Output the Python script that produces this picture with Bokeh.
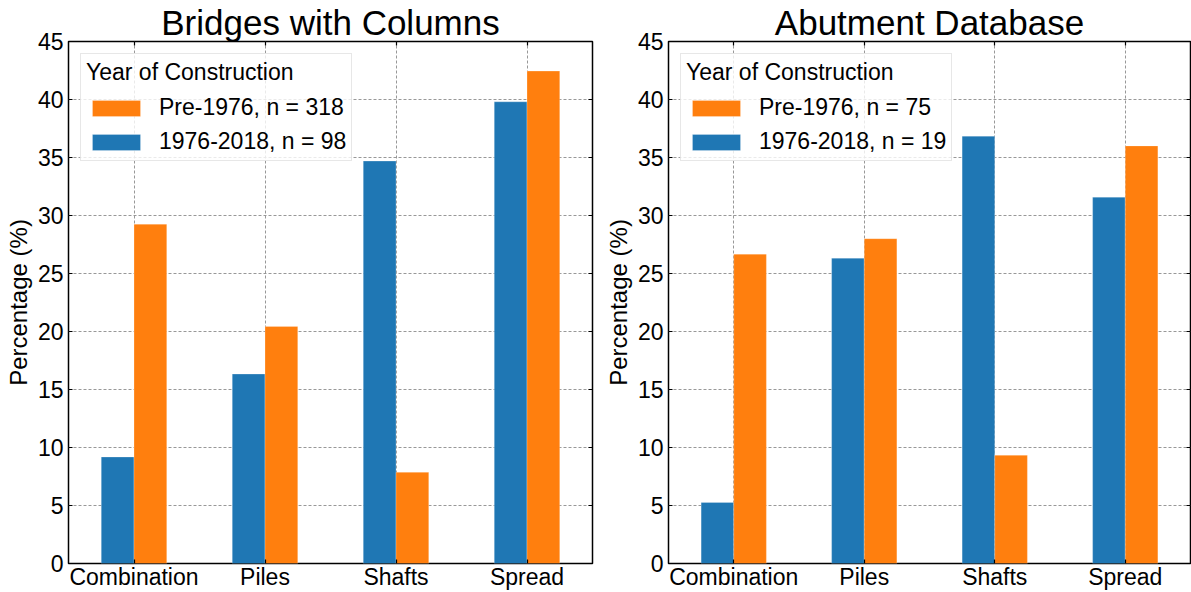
from bokeh.plotting import figure
from bokeh.layouts import row
from bokeh.models import (ColumnDataSource, FactorRange, Range1d, LinearAxis,
                          CategoricalAxis, Legend, LegendItem, FixedTicker)
from bokeh.transform import dodge
from bokeh.embed import file_html
from bokeh.resources import INLINE

# Foundation types and percentage shares per construction era
categories = ["Combination", "Piles", "Shafts", "Spread"]

columns_title = "Bridges with Columns"
columns_pre1976 = [29.25, 20.44, 7.86, 42.45]
columns_post1976 = [9.18, 16.33, 34.69, 39.80]
columns_labels = ["Pre-1976, n = 318", "1976-2018, n = 98"]

abutment_title = "Abutment Database"
abutment_pre1976 = [26.67, 28.00, 9.33, 36.00]
abutment_post1976 = [5.26, 26.32, 36.84, 31.58]
abutment_labels = ["Pre-1976, n = 75", "1976-2018, n = 19"]

y_ticks = [0, 5, 10, 15, 20, 25, 30, 35, 40, 45]

FONT = "Liberation Sans"
BLUE = "#1f77b4"
ORANGE = "#ff7f0e"


def make_panel(title, pre, post, labels, width, border_left, border_right):
    src = ColumnDataSource(dict(cat=categories, pre=pre, post=post))
    p = figure(x_range=FactorRange(*categories), y_range=Range1d(0, 45),
               width=width, height=592, output_backend="svg",
               toolbar_location=None, title=title,
               min_border_left=border_left, min_border_right=border_right,
               min_border_top=0, min_border_bottom=0)
    p.title.text_font = FONT
    p.title.text_font_size = "35px"
    p.title.text_font_style = "normal"
    p.title.align = "center"
    p.title.text_color = "black"
    p.title.standoff = 0

    p.outline_line_color = "black"
    p.outline_line_width = 1.5

    b_post = p.vbar(x=dodge("cat", -0.125, range=p.x_range), top="post",
                    width=0.25, source=src, fill_color=BLUE,
                    line_color="white", line_alpha=0.4, line_width=0.6)
    b_pre = p.vbar(x=dodge("cat", 0.125, range=p.x_range), top="pre",
                   width=0.25, source=src, fill_color=ORANGE,
                   line_color="white", line_alpha=0.4, line_width=0.6)

    # dashed grid on both axes
    for g in (p.xgrid, p.ygrid):
        g.grid_line_color = "#8c8c8c"
        g.grid_line_dash = "3 2"
        g.grid_line_width = 0.9
    p.ygrid.ticker = FixedTicker(ticks=y_ticks)

    # axes with inward ticks
    p.yaxis.ticker = FixedTicker(ticks=y_ticks)
    p.yaxis.axis_label = "Percentage (%)"
    for ax in (p.xaxis[0], p.yaxis[0]):
        ax.axis_line_color = None
        ax.major_tick_in = 4
        ax.major_tick_out = 0
        ax.major_tick_line_color = "black"
        ax.major_tick_line_width = 1.2
        ax.minor_tick_line_color = None
        ax.major_label_text_font = FONT
        ax.major_label_text_font_size = "23px"
        ax.major_label_text_color = "black"
        ax.axis_label_text_font = FONT
        ax.axis_label_text_font_size = "24px"
        ax.axis_label_text_font_style = "normal"
        ax.axis_label_text_color = "black"
    p.xaxis.major_label_standoff = 0
    p.yaxis.major_label_standoff = 5
    p.yaxis.axis_label_standoff = 3

    # mirrored tick marks on the right and top edges (no labels)
    r_ax = LinearAxis(ticker=FixedTicker(ticks=y_ticks), axis_line_color=None,
                      major_tick_in=4, major_tick_out=0,
                      major_tick_line_width=1.2,
                      minor_tick_line_color=None,
                      major_label_text_font_size="1px",
                      major_label_text_color=None,
                      major_label_standoff=0)
    p.add_layout(r_ax, "right")
    t_ax = CategoricalAxis(axis_line_color=None, major_tick_in=4,
                           major_tick_out=0, major_tick_line_width=1.2,
                           major_label_text_font_size="1px",
                           major_label_text_color=None,
                           major_label_standoff=0)
    p.add_layout(t_ax, "above")

    legend = Legend(items=[LegendItem(label=labels[0], renderers=[b_pre]),
                           LegendItem(label=labels[1], renderers=[b_post])],
                    location="top_left", title="Year of Construction")
    legend.margin = 12
    legend.padding = 5
    legend.spacing = 7
    legend.glyph_width = 60
    legend.glyph_height = 20
    legend.label_standoff = 13
    legend.label_text_font = FONT
    legend.label_text_font_size = "23px"
    legend.label_text_color = "black"
    legend.title_text_font = FONT
    legend.title_text_font_size = "23px"
    legend.title_text_font_style = "normal"
    legend.title_text_color = "black"
    legend.title_standoff = 8
    legend.border_line_color = "#d0d0d0"
    legend.border_line_width = 1
    legend.background_fill_alpha = 0.8
    p.add_layout(legend)
    return p


p1 = make_panel(columns_title, columns_pre1976, columns_post1976,
                columns_labels, 595, 68, 3)
p2 = make_panel(abutment_title, abutment_pre1976, abutment_post1976,
                abutment_labels, 596, 73, 1)

layout = row(p1, p2)
open("out.html", "w").write(file_html(layout, INLINE))
